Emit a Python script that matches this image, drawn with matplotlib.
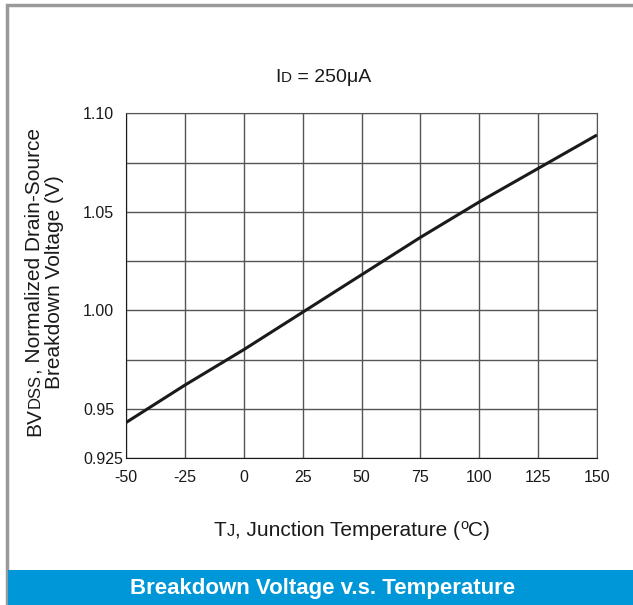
import matplotlib
matplotlib.use("Agg")
import matplotlib.pyplot as plt
from matplotlib.patches import Rectangle

plt.rcParams['font.family'] = ['Liberation Sans', 'DejaVu Sans']

# Datos
temp_c = [-50, -25, 0, 25, 50, 75, 100, 125, 150]
bv_norm = [0.943, 0.962, 0.980, 0.999, 1.018, 1.037, 1.055, 1.072, 1.089]

x_ticks = [-50, -25, 0, 25, 50, 75, 100, 125, 150]
y_ticks = [0.925, 0.95, 0.975, 1.00, 1.025, 1.05, 1.075, 1.10]
y_labels = ['0.925', '0.95', '', '1.00', '', '1.05', '', '1.10']

W, H = 633, 605
fig = plt.figure(figsize=(W / 100, H / 100), dpi=100)
renderer = fig.canvas.get_renderer()

# Marco gris y franja azul
fig.patches.append(Rectangle((6.5 / W, -0.1), 1.2, (H - 4.5) / H + 0.1,
                             transform=fig.transFigure, fill=False,
                             edgecolor='#9a9a9a', lw=2.5))
fig.patches.append(Rectangle((8 / W, 0), 1, 35 / H, transform=fig.transFigure,
                             facecolor='#0097d8', edgecolor='none'))

ax = fig.add_axes([126 / W, 1 - 458 / H, (597 - 126) / W, (458 - 113.3) / H])
ax.plot(temp_c, bv_norm, color='#1a1a1a', lw=2.2, solid_capstyle='butt')
ax.set_xlim(-50, 150)
ax.set_ylim(0.925, 1.10)
ax.set_xticks(x_ticks)
ax.set_xticklabels([str(v) for v in x_ticks])
ax.set_yticks(y_ticks)
ax.set_yticklabels(y_labels)
ax.grid(True, color='#555555', lw=1.0)
ax.tick_params(length=0, labelsize=11.5, colors='#1a1a1a')
ax.tick_params(axis='x', pad=9)
ax.tick_params(axis='y', pad=31)
for lab in ax.get_yticklabels():
    lab.set_horizontalalignment('left')
for side in ['left', 'bottom']:
    ax.spines[side].set_color('#1a1a1a')
for side in ['top', 'right']:
    ax.spines[side].set_color('#555555')


def rich(x, y, parts, rot=0, color='#1a1a1a'):
    # parts: (texto, tamano, desplazamiento vertical)
    anchos = []
    for s, size, dy in parts:
        t = fig.text(0, 0, s, fontsize=size)
        anchos.append(t.get_window_extent(renderer).width)
        t.remove()
    pos = -sum(anchos) / 2
    for (s, size, dy), w in zip(parts, anchos):
        if rot == 0:
            px, py = x + pos, y + dy
        else:
            px, py = x - dy, y + pos
        fig.text(px / W, py / H, s, fontsize=size, color=color, rotation=rot,
                 rotation_mode='anchor', ha='left', va='baseline')
        pos += w


rich(323.5, H - 81.7, [('I', 14, 0), ('D', 11, 0), (' = 250\u03bcA', 14, 0)])
rich(352, H - 536.5, [('T', 15, 0), ('J', 12, 0),
                      (', Junction Temperature (', 15, 0), ('o', 10.5, 7.5),
                      ('C)', 15, 0)])
rich(40, H - 281.7, [('BV', 15, 0), ('DSS', 12, 0),
                     (', Normalized Drain-Source', 15, 0)], rot=90)
rich(60, H - 281.7, [('Breakdown Voltage (V)', 15, 0)], rot=90)

fig.text(323 / W, (H - 594.3) / H, 'Breakdown Voltage v.s. Temperature',
         color='white', fontsize=16, fontweight='bold', ha='center',
         va='baseline')

fig.savefig('out.png', dpi=100)
